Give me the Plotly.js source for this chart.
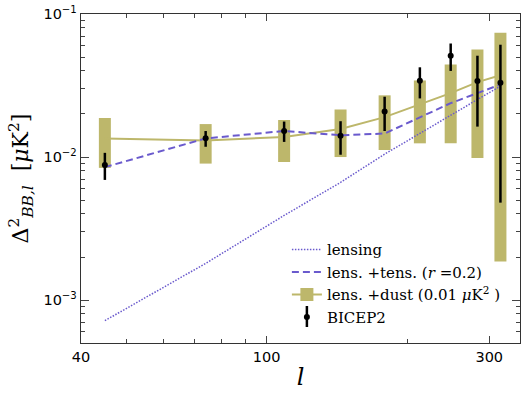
<!DOCTYPE html>
<html>
<head>
<meta charset="utf-8">
<script src="https://cdn.plot.ly/plotly-3.0.1.min.js"></script>
<style>html,body{margin:0;padding:0;background:#fff;}#chart{width:526px;height:396px;}</style>
</head>
<body>
<div id="chart"></div>
<script>
// multipole bin centres
const ell = [45, 74, 109, 144, 179, 213, 248, 283, 317];
// BICEP2 band powers and their errors (upper / lower)
const bicep2 = [0.0088, 0.01355, 0.0152, 0.0141, 0.0208, 0.0342, 0.0511, 0.0340, 0.0330];
const bicep2Hi = [0.0107, 0.0152, 0.0177, 0.0178, 0.0264, 0.0424, 0.0622, 0.0511, 0.0610];
const bicep2Lo = [0.00692, 0.0118, 0.01276, 0.01038, 0.0152, 0.0257, 0.0400, 0.01632, 0.0048];
// lensing-only model
const lensing = [0.000718, 0.001805, 0.003906, 0.006651, 0.010473, 0.014678, 0.019637, 0.025245, 0.031268];
// lensing + tensors (r = 0.2)
const lensTens = [0.0085, 0.0135, 0.0152, 0.0142, 0.0146, 0.0190, 0.0238, 0.0280, 0.0321];
// lensing + dust (0.01 uK^2) model and its scatter band
const lensDust = [0.0135, 0.01305, 0.0138, 0.0157, 0.0190, 0.0235, 0.0280, 0.0334, 0.0373];
const dustTop = [0.01875, 0.0170, 0.01815, 0.0215, 0.0270, 0.0343, 0.0443, 0.0565, 0.0738];
const dustBottom = [0.0084, 0.0090, 0.00923, 0.0100, 0.0112, 0.01247, 0.0125, 0.00985, 0.00186];
// tick labels
const xTickVals = [40, 100, 300];
const xTickText = ['40', '100', '300'];
const xMinorVals = [50, 60, 70, 80, 90, 200];
const yTickVals = [0.001, 0.01, 0.1];
const yTickText = ['10<sup>−3</sup>', '10<sup>−2</sup>', '10<sup>−1</sup>'];
const yMinorVals = [6e-4, 7e-4, 8e-4, 9e-4, 2e-3, 3e-3, 4e-3, 5e-3, 6e-3, 7e-3, 8e-3, 9e-3, 2e-2, 3e-2, 4e-2, 5e-2, 6e-2, 7e-2, 8e-2, 9e-2];

const khaki = '#bdb76b';
const slate = '#6a5acd';
const serif = 'DejaVu Serif, serif';

const traces = [
  { // dust scatter boxes
    x: ell, y: dustTop, mode: 'markers', marker: {size: 0.1, color: 'rgba(0,0,0,0)'},
    error_y: {type: 'data', symmetric: false, array: ell.map(() => 0),
      arrayminus: dustTop.map((t, i) => t - dustBottom[i]), color: khaki, thickness: 12, width: 0},
    showlegend: false, hoverinfo: 'skip'
  },
  { // dust model line
    x: ell, y: lensDust, mode: 'lines', line: {color: khaki, width: 2}, showlegend: false
  },
  {
    x: ell, y: lensing, mode: 'lines', name: 'lensing', legendrank: 1,
    line: {color: slate, width: 1.5, dash: '1.5px,1.5px'}
  },
  {
    x: ell, y: lensTens, mode: 'lines', name: 'lens. +tens. (<i>r</i> =0.2)', legendrank: 2,
    line: {color: slate, width: 2, dash: '7px,4px'}
  },
  { // legend entry for dust model
    x: [null], y: [null], mode: 'lines+markers', name: 'lens. +dust (0.01 <i>μ</i>K<sup>2</sup> )', legendrank: 3,
    line: {color: khaki, width: 2}, marker: {symbol: 'square', size: 13, color: khaki}
  },
  {
    x: ell, y: bicep2, mode: 'markers', name: 'BICEP2', legendrank: 4,
    marker: {color: 'black', size: 6},
    error_y: {type: 'data', symmetric: false,
      array: bicep2Hi.map((h, i) => h - bicep2[i]),
      arrayminus: bicep2.map((v, i) => v - bicep2Lo[i]),
      color: 'black', thickness: 2.5, width: 0}
  },
  { // error-bar glyph for the BICEP2 legend entry
    x: [null], y: [null], mode: 'markers', name: 'BICEP2', legend: 'legend2',
    marker: {symbol: 'line-ns-open', size: 15, color: 'black', line: {width: 2.5, color: 'black'}}
  }
];

const legendBase = {
  x: 0.469, y: 0.03, xanchor: 'left', yanchor: 'bottom',
  bgcolor: 'rgba(0,0,0,0)', borderwidth: 0, traceorder: 'normal'
};

const layout = {
  width: 526, height: 396,
  margin: {l: 81, r: 6, t: 14, b: 53},
  paper_bgcolor: 'white', plot_bgcolor: 'white',
  font: {family: 'DejaVu Sans, sans-serif', color: 'black'},
  xaxis: {
    type: 'log', range: [Math.log10(40), 2.543],
    tickmode: 'array', tickvals: xTickVals, ticktext: xTickText,
    ticks: 'inside', ticklen: 7, tickwidth: 1, tickcolor: '#444',
    minor: {tickmode: 'array', tickvals: xMinorVals, ticks: 'inside', ticklen: 4, tickcolor: '#444'},
    showgrid: false, zeroline: false,
    showline: true, linecolor: '#333', linewidth: 1.3, mirror: 'allticks',
    tickfont: {size: 14.5, family: 'DejaVu Sans, sans-serif'},
    title: {text: '<i>l</i>', font: {size: 24, family: serif}, standoff: 4}
  },
  yaxis: {
    type: 'log', range: [-3.30, -1],
    tickmode: 'array', tickvals: yTickVals, ticktext: yTickText,
    ticks: 'inside', ticklen: 8, tickwidth: 1, tickcolor: '#444',
    minor: {tickmode: 'array', tickvals: yMinorVals, ticks: 'inside', ticklen: 4, tickcolor: '#444'},
    showgrid: false, zeroline: false,
    showline: true, linecolor: '#333', linewidth: 1.3, mirror: 'allticks',
    tickfont: {size: 14.5, family: 'DejaVu Sans, sans-serif'},
    title: {text: 'Δ<sup>2</sup><sub><i>BB,l</i></sub>  [<i>μ</i>K<sup>2</sup>]', font: {size: 22, family: serif}, standoff: 8}
  },
  legend: Object.assign({}, legendBase, {font: {family: serif, size: 15, color: 'black'}}),
  legend2: Object.assign({}, legendBase, {font: {family: serif, size: 15, color: 'rgba(0,0,0,0)'}}),
  showlegend: true
};

Plotly.newPlot('chart', traces, layout, {displayModeBar: false, staticPlot: true});
</script>
</body>
</html>
